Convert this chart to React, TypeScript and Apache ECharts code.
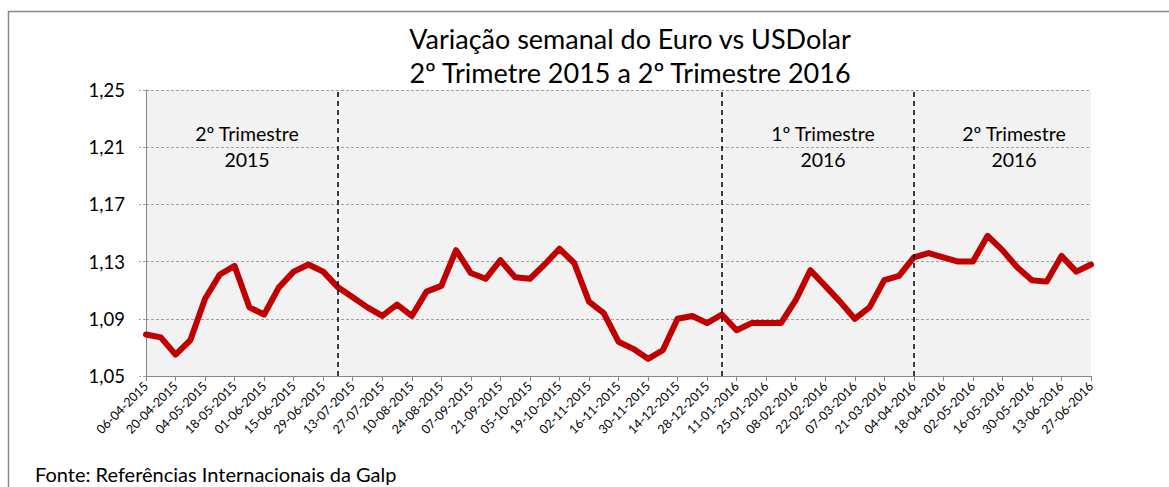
import React, { useEffect, useRef } from "react";
import * as echarts from "echarts";

const dates = [
  "06-04-2015", "13-04-2015", "20-04-2015", "27-04-2015", "04-05-2015", "11-05-2015", "18-05-2015", "25-05-2015",
  "01-06-2015", "08-06-2015", "15-06-2015", "22-06-2015", "29-06-2015", "06-07-2015", "13-07-2015", "20-07-2015",
  "27-07-2015", "03-08-2015", "10-08-2015", "17-08-2015", "24-08-2015", "31-08-2015", "07-09-2015", "14-09-2015",
  "21-09-2015", "28-09-2015", "05-10-2015", "12-10-2015", "19-10-2015", "26-10-2015", "02-11-2015", "09-11-2015",
  "16-11-2015", "23-11-2015", "30-11-2015", "07-12-2015", "14-12-2015", "21-12-2015", "28-12-2015",
  "04-01-2016", "11-01-2016", "18-01-2016", "25-01-2016", "01-02-2016", "08-02-2016", "15-02-2016", "22-02-2016",
  "29-02-2016", "07-03-2016", "14-03-2016", "21-03-2016", "28-03-2016", "04-04-2016", "11-04-2016", "18-04-2016",
  "25-04-2016", "02-05-2016", "09-05-2016", "16-05-2016", "23-05-2016", "30-05-2016", "06-06-2016", "13-06-2016",
  "20-06-2016", "27-06-2016",
];

const eurUsd = [
  1.079, 1.077, 1.065, 1.075, 1.104, 1.121, 1.127, 1.098,
  1.093, 1.112, 1.123, 1.128, 1.123, 1.112, 1.105, 1.098,
  1.092, 1.100, 1.092, 1.109, 1.113, 1.138, 1.122, 1.118,
  1.131, 1.119, 1.118, 1.128, 1.139, 1.129, 1.102, 1.094,
  1.074, 1.069, 1.062, 1.068, 1.090, 1.092, 1.087,
  1.093, 1.082, 1.087, 1.087, 1.087, 1.103, 1.124, 1.113,
  1.102, 1.090, 1.098, 1.117, 1.120, 1.133, 1.136, 1.133,
  1.130, 1.130, 1.148, 1.138, 1.126, 1.117, 1.116, 1.134,
  1.123, 1.128,
];

const quarterBreaks = ["06-07-2015", "04-01-2016", "04-04-2016"];

const titleLines = ["Variação semanal do Euro vs USDolar", "2º Trimetre 2015 a 2º Trimestre 2016"];
const quarterLabels = [
  { text: "2º Trimestre\n2015", x: 247 },
  { text: "1º Trimestre\n2016", x: 823 },
  { text: "2º Trimestre\n2016", x: 1014 },
];
const sourceText = "Fonte: Referências Internacionais da Galp";

const FONT = "Lato, 'Open Sans', sans-serif";

export default function App() {
  const ref = useRef<HTMLDivElement>(null);
  useEffect(() => {
    if (!ref.current) return;
    const chart = echarts.init(ref.current, null, { renderer: "svg" });
    chart.setOption({
      animation: false,
      textStyle: { fontFamily: FONT },
      grid: {
        left: 146,
        right: 78,
        top: 90,
        bottom: 111,
        show: true,
        backgroundColor: "#f2f2f2",
        borderWidth: 0,
      },
      xAxis: {
        type: "category",
        data: dates,
        boundaryGap: false,
        axisLine: { lineStyle: { color: "#868686", width: 1 } },
        axisTick: { interval: 1, length: 5, lineStyle: { color: "#868686" } },
        axisLabel: {
          interval: 1,
          rotate: 45,
          fontSize: 12.5,
          color: "#000",
          fontFamily: FONT,
          margin: 8,
        },
        splitLine: { show: false },
      },
      yAxis: {
        type: "value",
        min: 1.05,
        max: 1.25,
        interval: 0.04,
        axisLine: { show: true, lineStyle: { color: "#868686" } },
        axisTick: { show: true, length: 7, lineStyle: { color: "#a0a0a0", type: [3, 2] } },
        axisLabel: {
          fontSize: 18.5,
          color: "#000",
          fontFamily: FONT,
          margin: 21,
          formatter: (v: number) => v.toFixed(2).replace(".", ","),
        },
        splitLine: { show: true, lineStyle: { color: "#a0a0a0", type: [3, 2], width: 1 } },
      },
      series: [
        {
          type: "line",
          data: eurUsd,
          showSymbol: false,
          symbol: "none",
          lineStyle: { color: "#c00000", width: 6, join: "round", cap: "round" },
          itemStyle: { color: "#c00000" },
          z: 3,
          markLine: {
            silent: true,
            symbol: "none",
            label: { show: false },
            lineStyle: { color: "#000", type: [5, 4], width: 1.5 },
            data: quarterBreaks.map((d) => ({ xAxis: d })),
          },
        },
      ],
      graphic: [
        {
          type: "rect",
          shape: { x: 8.5, y: 11.5, width: 1300, height: 600 },
          style: { fill: "none", stroke: "#898989", lineWidth: 1.5 },
          silent: true,
          z: -1,
        },
        {
          type: "text",
          x: 630,
          y: 38,
          style: {
            text: titleLines[0],
            font: `27px ${FONT}`,
            fill: "#000",
            textAlign: "center",
            textVerticalAlign: "middle",
          },
        },
        {
          type: "text",
          x: 630,
          y: 72,
          style: {
            text: titleLines[1],
            font: `27px ${FONT}`,
            fill: "#000",
            textAlign: "center",
            textVerticalAlign: "middle",
          },
        },
        ...quarterLabels.map((q) => ({
          type: "text",
          x: q.x,
          y: 146,
          z: 10,
          style: {
            text: q.text,
            font: `19.5px ${FONT}`,
            lineHeight: 26,
            fill: "#000",
            textAlign: "center",
            textVerticalAlign: "middle",
          },
        })),
        {
          type: "text",
          x: 35,
          y: 474,
          style: {
            text: sourceText,
            font: `20px ${FONT}`,
            fill: "#000",
            textAlign: "left",
            textVerticalAlign: "middle",
          },
        },
      ],
    });
    return () => chart.dispose();
  }, []);
  return (
    <div
      ref={ref}
      style={{ position: "absolute", left: 0, top: 0, width: 1169, height: 487, background: "#fff" }}
    />
  );
}
